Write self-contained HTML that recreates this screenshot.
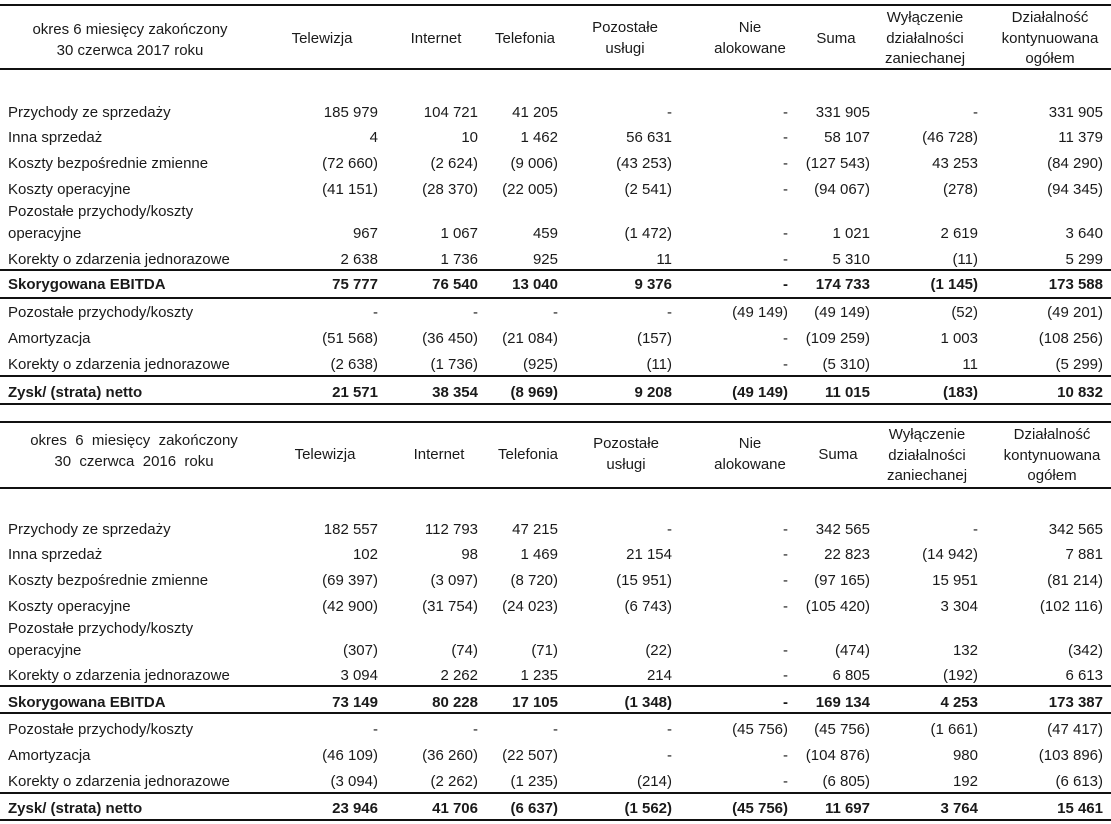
<!DOCTYPE html>
<html><head><meta charset="utf-8"><style>
body{margin:0;background:#fff;width:1111px;height:824px;position:relative;overflow:hidden;font-family:"Liberation Sans",sans-serif;font-size:15px;color:#1a1a1a}
.h{position:absolute;left:0;width:1111px;height:1.5px;background:#111}
.r{position:absolute;left:0;width:1111px;height:20px;line-height:20px;white-space:nowrap}
.r span{position:absolute}
.b{font-weight:bold}
.l{left:8px}
.c1{right:733px}.c2{right:633px}.c3{right:553px}.c4{right:439px}.c5{right:323px}.c6{right:241px}.c7{right:133px}.c8{right:8px}
.hd{position:absolute;text-align:center;line-height:20.5px;transform:translateX(-50%);white-space:nowrap}
</style></head><body>
<div class="h" style="top:4px"></div>
<div class="h" style="top:68px"></div>
<div class="h" style="top:269px"></div>
<div class="h" style="top:297px"></div>
<div class="h" style="top:375px"></div>
<div class="h" style="top:403px"></div>
<div class="h" style="top:421px"></div>
<div class="h" style="top:487px"></div>
<div class="h" style="top:685px"></div>
<div class="h" style="top:712px"></div>
<div class="h" style="top:792px"></div>
<div class="h" style="top:819px"></div>

<div class="hd" style="left:130px;top:20px">okres 6 miesięcy zakończony<br>30 czerwca 2017 roku</div>
<div class="hd" style="left:322px;top:29px">Telewizja</div>
<div class="hd" style="left:436px;top:29px">Internet</div>
<div class="hd" style="left:525px;top:29px">Telefonia</div>
<div class="hd" style="left:625px;top:18px">Pozostałe<br>usługi</div>
<div class="hd" style="left:750px;top:18px">Nie<br>alokowane</div>
<div class="hd" style="left:836px;top:29px">Suma</div>
<div class="hd" style="left:925px;top:8px">Wyłączenie<br>działalności<br>zaniechanej</div>
<div class="hd" style="left:1050px;top:8px">Działalność<br>kontynuowana<br>ogółem</div>

<div class="r" style="top:103px"><span class="l">Przychody ze sprzedaży</span><span class="c1">185 979</span><span class="c2">104 721</span><span class="c3">41 205</span><span class="c4">-</span><span class="c5">-</span><span class="c6">331 905</span><span class="c7">-</span><span class="c8">331 905</span></div>
<div class="r" style="top:128px"><span class="l">Inna  sprzedaż</span><span class="c1">4</span><span class="c2">10</span><span class="c3">1 462</span><span class="c4">56 631</span><span class="c5">-</span><span class="c6">58 107</span><span class="c7">(46 728)</span><span class="c8">11 379</span></div>
<div class="r" style="top:154px"><span class="l">Koszty bezpośrednie zmienne</span><span class="c1">(72 660)</span><span class="c2">(2 624)</span><span class="c3">(9 006)</span><span class="c4">(43 253)</span><span class="c5">-</span><span class="c6">(127 543)</span><span class="c7">43 253</span><span class="c8">(84 290)</span></div>
<div class="r" style="top:180px"><span class="l">Koszty operacyjne</span><span class="c1">(41 151)</span><span class="c2">(28 370)</span><span class="c3">(22 005)</span><span class="c4">(2 541)</span><span class="c5">-</span><span class="c6">(94 067)</span><span class="c7">(278)</span><span class="c8">(94 345)</span></div>
<div class="r" style="top:202px"><span class="l">Pozostałe przychody/koszty</span></div>
<div class="r" style="top:224px"><span class="l">operacyjne</span><span class="c1">967</span><span class="c2">1 067</span><span class="c3">459</span><span class="c4">(1 472)</span><span class="c5">-</span><span class="c6">1 021</span><span class="c7">2 619</span><span class="c8">3 640</span></div>
<div class="r" style="top:250px"><span class="l">Korekty o zdarzenia jednorazowe</span><span class="c1">2 638</span><span class="c2">1 736</span><span class="c3">925</span><span class="c4">11</span><span class="c5">-</span><span class="c6">5 310</span><span class="c7">(11)</span><span class="c8">5 299</span></div>
<div class="r b" style="top:275px"><span class="l">Skorygowana EBITDA</span><span class="c1">75 777</span><span class="c2">76 540</span><span class="c3">13 040</span><span class="c4">9 376</span><span class="c5">-</span><span class="c6">174 733</span><span class="c7">(1 145)</span><span class="c8">173 588</span></div>
<div class="r" style="top:303px"><span class="l">Pozostałe przychody/koszty</span><span class="c1">-</span><span class="c2">-</span><span class="c3">-</span><span class="c4">-</span><span class="c5">(49 149)</span><span class="c6">(49 149)</span><span class="c7">(52)</span><span class="c8">(49 201)</span></div>
<div class="r" style="top:329px"><span class="l">Amortyzacja</span><span class="c1">(51 568)</span><span class="c2">(36 450)</span><span class="c3">(21 084)</span><span class="c4">(157)</span><span class="c5">-</span><span class="c6">(109 259)</span><span class="c7">1 003</span><span class="c8">(108 256)</span></div>
<div class="r" style="top:355px"><span class="l">Korekty o zdarzenia jednorazowe</span><span class="c1">(2 638)</span><span class="c2">(1 736)</span><span class="c3">(925)</span><span class="c4">(11)</span><span class="c5">-</span><span class="c6">(5 310)</span><span class="c7">11</span><span class="c8">(5 299)</span></div>
<div class="r b" style="top:383px"><span class="l">Zysk/ (strata) netto</span><span class="c1">21 571</span><span class="c2">38 354</span><span class="c3">(8 969)</span><span class="c4">9 208</span><span class="c5">(49 149)</span><span class="c6">11 015</span><span class="c7">(183)</span><span class="c8">10 832</span></div>

<div class="hd" style="left:134px;top:431px">okres&nbsp; 6&nbsp; miesięcy&nbsp; zakończony<br>30&nbsp; czerwca&nbsp; 2016&nbsp; roku</div>
<div class="hd" style="left:325px;top:445px">Telewizja</div>
<div class="hd" style="left:439px;top:445px">Internet</div>
<div class="hd" style="left:528px;top:445px">Telefonia</div>
<div class="hd" style="left:626px;top:434px">Pozostałe<br>usługi</div>
<div class="hd" style="left:750px;top:434px">Nie<br>alokowane</div>
<div class="hd" style="left:838px;top:445px">Suma</div>
<div class="hd" style="left:927px;top:425px">Wyłączenie<br>działalności<br>zaniechanej</div>
<div class="hd" style="left:1052px;top:425px">Działalność<br>kontynuowana<br>ogółem</div>

<div class="r" style="top:520px"><span class="l">Przychody ze sprzedaży</span><span class="c1">182 557</span><span class="c2">112 793</span><span class="c3">47 215</span><span class="c4">-</span><span class="c5">-</span><span class="c6">342 565</span><span class="c7">-</span><span class="c8">342 565</span></div>
<div class="r" style="top:545px"><span class="l">Inna  sprzedaż</span><span class="c1">102</span><span class="c2">98</span><span class="c3">1 469</span><span class="c4">21 154</span><span class="c5">-</span><span class="c6">22 823</span><span class="c7">(14 942)</span><span class="c8">7 881</span></div>
<div class="r" style="top:571px"><span class="l">Koszty bezpośrednie zmienne</span><span class="c1">(69 397)</span><span class="c2">(3 097)</span><span class="c3">(8 720)</span><span class="c4">(15 951)</span><span class="c5">-</span><span class="c6">(97 165)</span><span class="c7">15 951</span><span class="c8">(81 214)</span></div>
<div class="r" style="top:597px"><span class="l">Koszty operacyjne</span><span class="c1">(42 900)</span><span class="c2">(31 754)</span><span class="c3">(24 023)</span><span class="c4">(6 743)</span><span class="c5">-</span><span class="c6">(105 420)</span><span class="c7">3 304</span><span class="c8">(102 116)</span></div>
<div class="r" style="top:619px"><span class="l">Pozostałe przychody/koszty</span></div>
<div class="r" style="top:641px"><span class="l">operacyjne</span><span class="c1">(307)</span><span class="c2">(74)</span><span class="c3">(71)</span><span class="c4">(22)</span><span class="c5">-</span><span class="c6">(474)</span><span class="c7">132</span><span class="c8">(342)</span></div>
<div class="r" style="top:666px"><span class="l">Korekty o zdarzenia jednorazowe</span><span class="c1">3 094</span><span class="c2">2 262</span><span class="c3">1 235</span><span class="c4">214</span><span class="c5">-</span><span class="c6">6 805</span><span class="c7">(192)</span><span class="c8">6 613</span></div>
<div class="r b" style="top:693px"><span class="l">Skorygowana EBITDA</span><span class="c1">73 149</span><span class="c2">80 228</span><span class="c3">17 105</span><span class="c4">(1 348)</span><span class="c5">-</span><span class="c6">169 134</span><span class="c7">4 253</span><span class="c8">173 387</span></div>
<div class="r" style="top:720px"><span class="l">Pozostałe przychody/koszty</span><span class="c1">-</span><span class="c2">-</span><span class="c3">-</span><span class="c4">-</span><span class="c5">(45 756)</span><span class="c6">(45 756)</span><span class="c7">(1 661)</span><span class="c8">(47 417)</span></div>
<div class="r" style="top:746px"><span class="l">Amortyzacja</span><span class="c1">(46 109)</span><span class="c2">(36 260)</span><span class="c3">(22 507)</span><span class="c4">-</span><span class="c5">-</span><span class="c6">(104 876)</span><span class="c7">980</span><span class="c8">(103 896)</span></div>
<div class="r" style="top:772px"><span class="l">Korekty o zdarzenia jednorazowe</span><span class="c1">(3 094)</span><span class="c2">(2 262)</span><span class="c3">(1 235)</span><span class="c4">(214)</span><span class="c5">-</span><span class="c6">(6 805)</span><span class="c7">192</span><span class="c8">(6 613)</span></div>
<div class="r b" style="top:799px"><span class="l">Zysk/ (strata) netto</span><span class="c1">23 946</span><span class="c2">41 706</span><span class="c3">(6 637)</span><span class="c4">(1 562)</span><span class="c5">(45 756)</span><span class="c6">11 697</span><span class="c7">3 764</span><span class="c8">15 461</span></div>
</body></html>
